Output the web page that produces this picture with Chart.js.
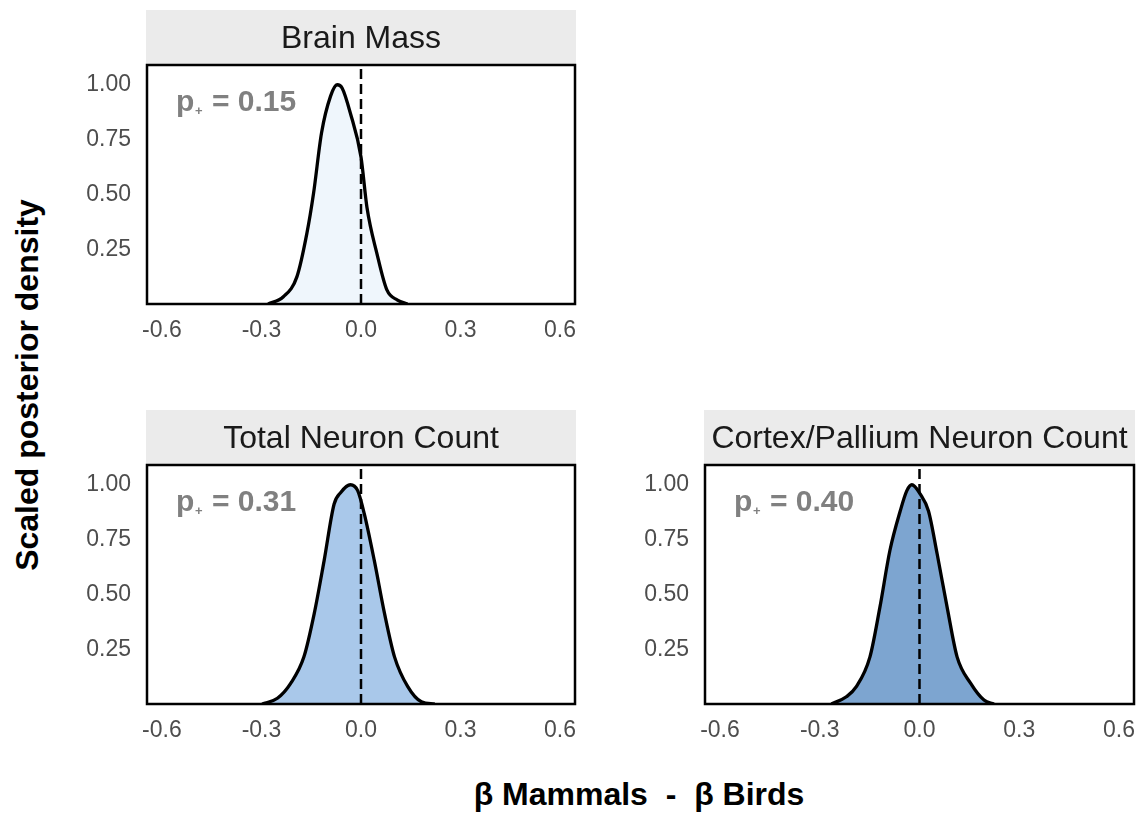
<!DOCTYPE html>
<html>
<head>
<meta charset="utf-8">
<script src="https://cdn.jsdelivr.net/npm/chart.js@4.4.1/dist/chart.umd.min.js"></script>
<style>
html, body { margin: 0; padding: 0; background: #fff; overflow: hidden; }
#page { position: relative; width: 1141px; height: 814px; overflow: hidden; }
canvas { position: absolute; }
.title { position: absolute; font-family: "Liberation Sans", Arial, sans-serif; font-weight: bold;
         font-size: 32px; line-height: 32px; color: #000; white-space: pre; }
</style>
</head>
<body>
<div id="page">
  <canvas id="brain" width="540" height="350" style="left:60px;top:0px"></canvas>
  <canvas id="total" width="540" height="350" style="left:60px;top:400px"></canvas>
  <canvas id="cortex" width="540" height="350" style="left:618px;top:400px"></canvas>
  <div class="title" style="left:27px;top:385px;transform:translate(-50%,-50%) rotate(-90deg)">Scaled posterior density</div>
  <div class="title" style="left:639px;top:778px;transform:translateX(-50%)">β Mammals  -  β Birds</div>
</div>
<script>
// tick labels
const xTicks = [-0.6, -0.3, 0.0, 0.3, 0.6];
const yTicks = [0.25, 0.50, 0.75, 1.00];
const xMin = -0.645, xMax = 0.645;
const yMax = 1.09;

const panelTitles = ['Brain Mass', 'Total Neuron Count', 'Cortex/Pallium Neuron Count'];
const pPlus = ['0.15', '0.31', '0.40'];

// scaled posterior densities
const brainX = [-0.28, -0.234, -0.193, -0.163, -0.143, -0.119, -0.092, -0.072, -0.057, -0.032, 0.0, 0.018, 0.048, 0.078, 0.11, 0.14];
const brainY = [0, 0.033, 0.125, 0.323, 0.505, 0.78, 0.947, 1.0, 0.985, 0.87, 0.67, 0.44, 0.23, 0.064, 0.018, 0];

const totalX = [-0.298, -0.252, -0.212, -0.172, -0.141, -0.111, -0.081, -0.061, -0.032, -0.01, 0.01, 0.04, 0.071, 0.101, 0.141, 0.182, 0.222];
const totalY = [0, 0.026, 0.094, 0.215, 0.412, 0.655, 0.912, 0.965, 1.0, 0.973, 0.867, 0.655, 0.412, 0.215, 0.079, 0.01, 0];

const cortexX = [-0.265, -0.22, -0.19, -0.149, -0.119, -0.089, -0.058, -0.038, -0.023, 0.002, 0.027, 0.053, 0.083, 0.113, 0.154, 0.194, 0.224];
const cortexY = [0, 0.033, 0.079, 0.215, 0.442, 0.7, 0.88, 0.973, 1.0, 0.958, 0.88, 0.685, 0.442, 0.215, 0.094, 0.018, 0];

const FONT = '"Liberation Sans", Arial, sans-serif';

// strip on top, black box, p+ label
const panelDeco = function (title, p) {
    return {
        id: 'deco',
        afterDraw(chart) {
            const ctx = chart.ctx;
            const a = chart.chartArea;
            ctx.save();
            ctx.fillStyle = '#EBEBEB';
            ctx.fillRect(a.left - 1, 10, a.right - a.left + 2, a.top - 11);
            ctx.fillStyle = '#1A1A1A';
            ctx.font = '32px ' + FONT;
            ctx.textAlign = 'center';
            ctx.textBaseline = 'alphabetic';
            ctx.fillText(title, (a.left + a.right) / 2, 48);

            ctx.strokeStyle = '#000';
            ctx.lineWidth = 2.5;
            ctx.strokeRect(a.left, a.top, a.right - a.left, a.bottom - a.top);

            // p+ = ...
            let x = a.left + 29, y = a.top + 46;
            ctx.fillStyle = '#808080';
            ctx.textAlign = 'left';
            ctx.font = 'bold 30px ' + FONT;
            ctx.fillText('p', x, y);
            ctx.font = 'bold 13px ' + FONT;
            ctx.fillText('+', x + 19, y + 4);
            ctx.font = 'bold 30px ' + FONT;
            ctx.fillText('= ' + p, x + 36, y);
            ctx.restore();
        }
    };
};

const makePanel = function (id, title, p, xs, ys, fillColor, padRight) {
    let pts = xs.map((x, i) => ({x: x, y: ys[i]}));
    new Chart(document.getElementById(id), {
        type: 'line',
        data: {
            datasets: [{
                data: pts,
                borderWidth: 0,
                backgroundColor: fillColor,
                fill: 'origin',
                pointRadius: 0,
                cubicInterpolationMode: 'monotone',
                order: 3,
            }, {
                data: [{x: 0, y: 0}, {x: 0, y: 1.075}],
                borderColor: '#000',
                borderWidth: 2.5,
                borderDash: [10, 5],
                pointRadius: 0,
                fill: false,
                order: 2,
            }, {
                data: pts,
                borderColor: '#000',
                borderWidth: 3.3,
                pointRadius: 0,
                fill: false,
                cubicInterpolationMode: 'monotone',
                order: 1,
            }]
        },
        options: {
            responsive: false,
            animation: false,
            devicePixelRatio: 1,
            layout: {padding: {top: 65, right: padRight, left: 0, bottom: 0}},
            plugins: {legend: {display: false}, tooltip: {enabled: false}},
            scales: {
                x: {
                    type: 'linear', min: xMin, max: xMax,
                    grid: {display: false, drawTicks: false},
                    border: {display: false},
                    afterBuildTicks: s => { s.ticks = xTicks.map(v => ({value: v})); },
                    afterFit: s => { s.height = 46; },
                    ticks: {
                        color: '#4D4D4D', font: {family: FONT, size: 23}, padding: 13,
                        maxRotation: 0, autoSkip: false,
                        callback: v => v.toFixed(1),
                    }
                },
                y: {
                    type: 'linear', min: 0, max: yMax,
                    grid: {display: false, drawTicks: false},
                    border: {display: false},
                    afterBuildTicks: s => { s.ticks = yTicks.map(v => ({value: v})); },
                    afterFit: s => { s.width = 87; },
                    ticks: {
                        color: '#4D4D4D', font: {family: FONT, size: 23}, padding: 16,
                        autoSkip: false,
                        callback: v => v.toFixed(2),
                    }
                }
            }
        },
        plugins: [panelDeco(title, p)]
    });
}

makePanel('brain', panelTitles[0], pPlus[0], brainX, brainY, '#EFF6FC', 25);
makePanel('total', panelTitles[1], pPlus[1], totalX, totalY, '#A9C8EA', 25);
makePanel('cortex', panelTitles[2], pPlus[2], cortexX, cortexY, '#7DA5D0', 24);
</script>
</body>
</html>
